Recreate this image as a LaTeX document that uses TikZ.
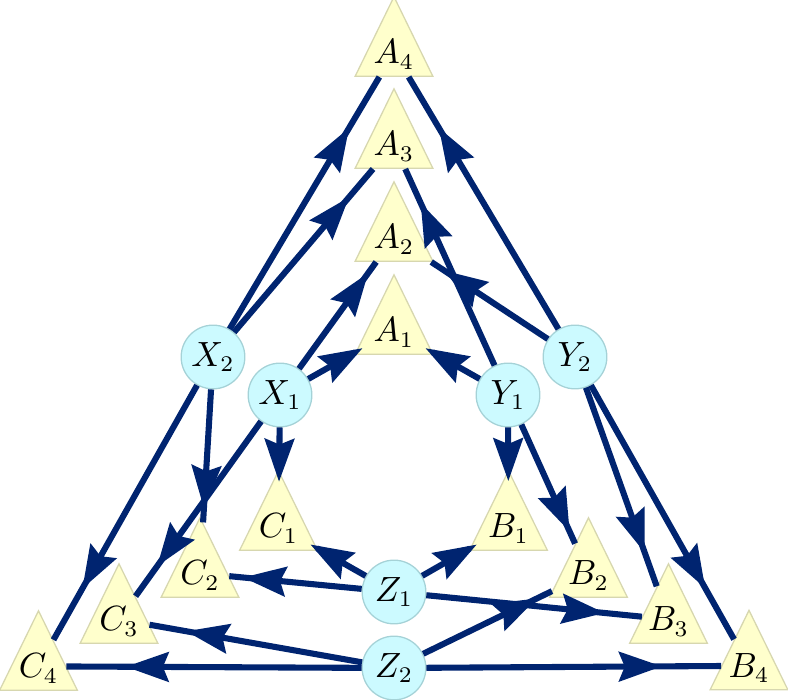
\documentclass[tikz,border=0pt]{standalone}
\usetikzlibrary{shapes.geometric,arrows.meta,decorations.markings}
\definecolor{navy}{RGB}{0,36,112}
\definecolor{trifill}{RGB}{255,255,204}
\definecolor{tridraw}{RGB}{215,215,175}
\definecolor{circfill}{RGB}{204,250,255}
\definecolor{circdraw}{RGB}{165,210,215}
\newcommand{\trilabel}[1]{\makebox[9pt]{$#1$}}
\tikzset{
  tri/.style={isosceles triangle, shape border rotate=90, isosceles triangle stretches,
    minimum width=24.3pt, minimum height=24.6pt, inner sep=0pt,
    text height=10.6pt, text depth=3.4pt, anchor=lower side,
    fill=trifill, draw=tridraw, line width=0.4pt, font=\fontsize{10.5}{12}\selectfont},
  circ/.style={circle, minimum size=19.9pt, inner sep=0pt,
    fill=circfill, draw=circdraw, line width=0.4pt, font=\fontsize{10.5}{12}\selectfont},
  edge/.style={draw=navy, line width=1.9pt, postaction=decorate,
    decoration={markings, mark=at position 0.72 with
      {\pgftransformxshift{7.3pt}\arrow[navy]{Stealth[length=13.4pt,width=9.2pt,inset=1.8pt]}}}},
}
\begin{document}
\begin{tikzpicture}[x=0.3125pt,y=-0.3125pt]
\useasboundingbox (0,0) rectangle (788,700);
% triangles (placed by the midpoint of their base)
\node[tri] (A1) at (394,355) {\trilabel{A_1}};
\node[tri] (A2) at (394,262) {\trilabel{A_2}};
\node[tri] (A3) at (394,169) {\trilabel{A_3}};
\node[tri] (A4) at (394,77)  {\trilabel{A_4}};
\node[tri] (C1) at (278.5,551) {\trilabel{C_1}};
\node[tri] (C2) at (200,598)   {\trilabel{C_2}};
\node[tri] (C3) at (119,644)   {\trilabel{C_3}};
\node[tri] (C4) at (38.5,691)  {\trilabel{C_4}};
\node[tri] (B1) at (508.5,551) {\trilabel{B_1}};
\node[tri] (B2) at (588.5,598) {\trilabel{B_2}};
\node[tri] (B3) at (668.5,644) {\trilabel{B_3}};
\node[tri] (B4) at (749,690.5) {\trilabel{B_4}};
% circles
\node[circ] (X1) at (280,395) {$X_1$};
\node[circ] (Y1) at (508,395) {$Y_1$};
\node[circ] (Z1) at (394,592) {$Z_1$};
\node[circ] (X2) at (213,357) {$X_2$};
\node[circ] (Y2) at (575,357) {$Y_2$};
\node[circ] (Z2) at (394,668) {$Z_2$};
% edges
\draw[edge] (X1) -- (A1);
\draw[edge] (X1) -- (A2);
\draw[edge] (X1) -- (C1);
\draw[edge] (X1) -- (C3);
\draw[edge] (X2) -- (A3);
\draw[edge] (X2) -- (A4);
\draw[edge] (X2) -- (C2);
\draw[edge] (X2) -- (C4);
\draw[edge] (Y1) -- (A1);
\draw[edge] (Y1) -- (A3);
\draw[edge] (Y1) -- (B1);
\draw[edge] (Y1) -- (B2);
\draw[edge] (Y2) -- (A2);
\draw[edge] (Y2) -- (A4);
\draw[edge] (Y2) -- (B3);
\draw[edge] (Y2) -- (B4);
\draw[edge] (Z1) -- (C1);
\draw[edge] (Z1) -- (B1);
\draw[edge] (Z1) -- (C2);
\draw[edge] (Z1) -- (B3);
\draw[edge] (Z2) -- (C3);
\draw[edge] (Z2) -- (C4);
\draw[edge] (Z2) -- (B2);
\draw[edge] (Z2) -- (B4);
\end{tikzpicture}
\end{document}
